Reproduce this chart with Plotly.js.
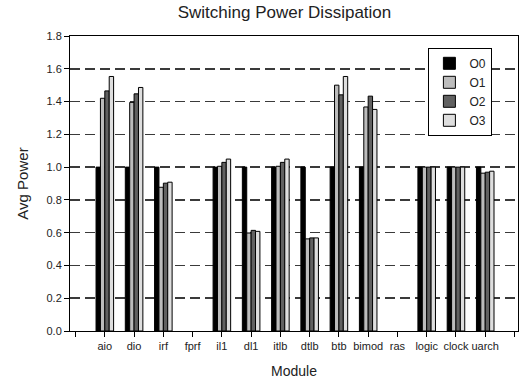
<!DOCTYPE html>
<html>
<head>
<meta charset="utf-8">
<script src="https://cdn.plot.ly/plotly-3.0.1.min.js"></script>
<style>html,body{margin:0;padding:0;background:#fff;}#chart{width:522px;height:383px;}</style>
</head>
<body>
<div id="chart"></div>
<script>
// Categories (blank slots at both ends as in the original axis)
var axisCategories = [' ', 'aio', 'dio', 'irf', 'fprf', 'il1', 'dl1', 'itlb', 'dtlb', 'btb', 'bimod', 'ras', 'logic', 'clock', 'uarch', '  '];
var modules = ['aio', 'dio', 'irf', 'fprf', 'il1', 'dl1', 'itlb', 'dtlb', 'btb', 'bimod', 'ras', 'logic', 'clock', 'uarch'];
var seriesNames = ['O0', 'O1', 'O2', 'O3'];
var O0 = [1.0, 1.0, 1.0, null, 1.0, 1.0, 1.0, 1.0, 1.0, 1.0, null, 1.0, 1.0, 1.0];
var O1 = [1.42, 1.395, 0.877, null, 1.005, 0.598, 1.005, 0.562, 1.50, 1.367, null, 1.0, 1.0, 0.963];
var O2 = [1.465, 1.447, 0.902, null, 1.029, 0.614, 1.029, 0.568, 1.441, 1.433, null, 1.0, 1.0, 0.969];
var O3 = [1.553, 1.486, 0.908, null, 1.049, 0.608, 1.049, 0.568, 1.553, 1.352, null, 1.0, 1.0, 0.975];
var yTicks = [0, 0.2, 0.4, 0.6, 0.8, 1.0, 1.2, 1.4, 1.6, 1.8];
var yTickText = ['0.0', '0.2', '0.4', '0.6', '0.8', '1.0', '1.2', '1.4', '1.6', '1.8'];

var colors = ['#000000', '#bcbcbc', '#616161', '#dedede'];
var seriesValues = [O0, O1, O2, O3];

var traces = seriesValues.map(function (vals, i) {
  return {
    type: 'bar',
    name: seriesNames[i],
    x: modules,
    y: vals,
    marker: { color: colors[i], line: { color: '#000', width: 1 } }
  };
});

var font = 'Arial, "Liberation Sans", sans-serif';
var layout = {
  width: 522, height: 383,
  margin: { l: 70, r: 4, t: 36, b: 52 },
  paper_bgcolor: '#fff', plot_bgcolor: '#fff',
  font: { family: font, color: '#222', size: 11 },
  title: { text: 'Switching Power Dissipation', font: { family: font, size: 17, color: '#222' }, x: 0.545, xanchor: 'center', y: 0.985, yanchor: 'top' },
  barmode: 'group', bargap: 0.4, bargroupgap: 0,
  showlegend: true,
  legend: {
    x: 0.8, y: 0.96, xanchor: 'left', yanchor: 'top',
    bgcolor: '#fff', bordercolor: '#000', borderwidth: 1,
    font: { family: font, size: 12, color: '#222' },
    tracegroupgap: 0, itemwidth: 30
  },
  xaxis: {
    type: 'category', categoryorder: 'array', categoryarray: axisCategories,
    range: [-0.19, 15.12],
    showline: true, linecolor: '#000', linewidth: 1, mirror: true,
    ticks: 'outside', ticklen: 5, tickcolor: '#000',
    showgrid: false, zeroline: false,
    tickfont: { family: font, size: 11, color: '#222' },
    title: { text: 'Module', font: { family: font, size: 14, color: '#222' }, standoff: 14 }
  },
  yaxis: {
    range: [0, 1.8], tickvals: yTicks, ticktext: yTickText,
    showline: true, linecolor: '#000', linewidth: 1, mirror: true,
    ticks: 'outside', ticklen: 5, tickcolor: '#000',
    showgrid: true, gridcolor: '#3a3a3a', gridwidth: 1.5, griddash: '10px,5px',
    zeroline: false,
    tickfont: { family: font, size: 11, color: '#222' },
    title: { text: 'Avg Power', font: { family: font, size: 15, color: '#222' }, standoff: 14 }
  }
};

Plotly.newPlot('chart', traces, layout, { displayModeBar: false, staticPlot: true });
</script>
</body>
</html>
